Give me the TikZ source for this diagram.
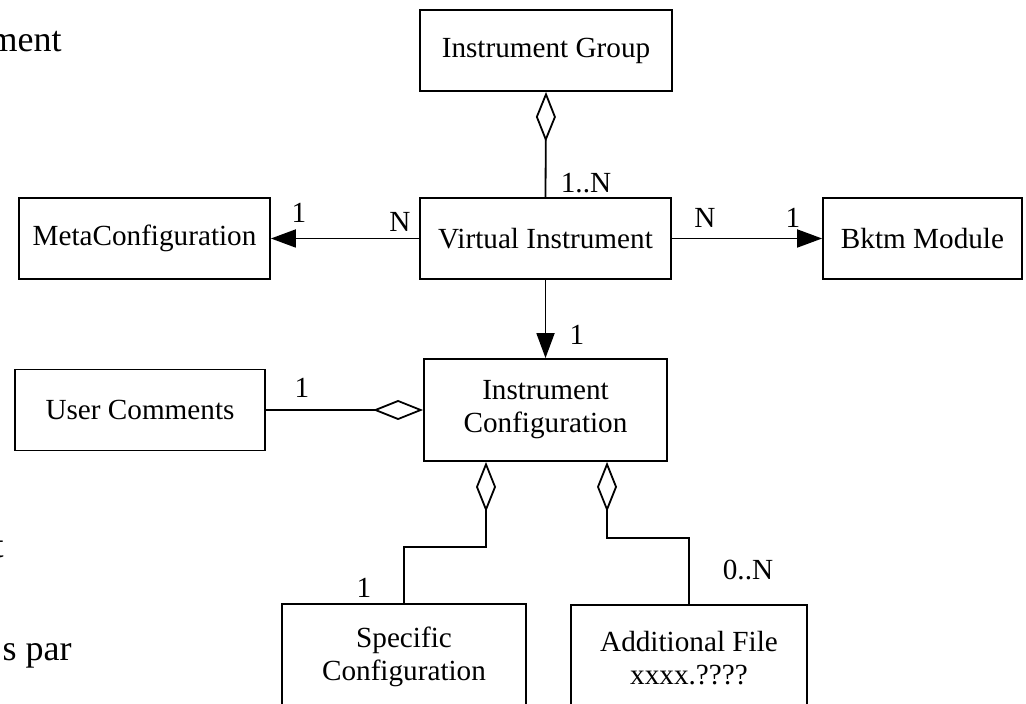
\documentclass[tikz,border=0pt]{standalone}
\usepackage{fontspec}
\setmainfont{Liberation Serif}
\usepackage{tikz}
\usetikzlibrary{arrows.meta}

\tikzset{
  classbox/.style={draw,line width=0.9pt,inner sep=0pt,align=center,
    font=\fontsize{14.6}{16.5}\selectfont},
  mult/.style={font=\fontsize{14.6}{16.5}\selectfont,inner sep=0pt},
  pagetext/.style={font=\fontsize{18}{20}\selectfont,inner sep=0pt,anchor=base east},
  aggr/.style={{Diamond[open,length=25pt,width=10pt]}-,line width=0.9pt},
  navig/.style={-{Triangle[length=12.5pt,width=9pt]},line width=0.9pt}
}

\begin{document}
\begin{tikzpicture}[x=0.5pt,y=-0.5pt]
\useasboundingbox (0,0) rectangle (1026,704);
% text of the page behind
\node[pagetext] (pgA) at (62,52) {ment};
\node[pagetext] (pgB) at (4,557) {t};
\node[pagetext] (pgC) at (72,660) {s par};
% classes
\node[classbox,minimum width=126pt,minimum height=40.5pt] (grp) at (546,50.5) {Instrument Group};
\node[classbox,minimum width=125.5pt,minimum height=40.5pt] (vi) at (545.5,238.5) {Virtual Instrument};
\node[classbox,minimum width=125.5pt,minimum height=40.5pt] (meta) at (144.5,238.5) {MetaConfiguration};
\node[classbox,minimum width=99.5pt,minimum height=40.5pt] (bktm) at (922.5,238.5) {Bktm Module};
\node[classbox,minimum width=125pt,minimum height=40.5pt] (usr) at (140,410) {User Comments};
\node[classbox,minimum width=121.5pt,minimum height=51pt] (icfg) at (545.5,410) {Instrument\\Configuration};
\node[classbox,minimum width=122pt,minimum height=53pt] (spec) at (404,657) {Specific\\Configuration};
\node[classbox,minimum width=118pt,minimum height=53pt] (addf) at (689,658) {Additional File\\xxxx.????};
% associations
\draw[aggr] (grp.south) -- (vi.north);
\draw[navig] (vi.west) -- (meta.east);
\draw[navig] (vi.east) -- (bktm.west);
\draw[navig] (vi.south) -- (icfg.north);
\draw[aggr] (icfg.west) -- (icfg.west -| usr.east);
\draw[aggr] ([xshift=-29.75pt]icfg.south) -- ++(0,-42.5pt) -| (spec.north);
\draw[aggr] ([xshift=30.75pt]icfg.south) -- ++(0,-38pt) -| (addf.north);
% multiplicities
\node[mult] (mGrp) at (586,183) {1..N};
\node[mult] (mMeta) at (299,213) {1};
\node[mult] (mViL) at (400,222) {N};
\node[mult] (mViR) at (705,218) {N};
\node[mult] (mBktm) at (793,218) {1};
\node[mult] (mIcfg) at (577,335) {1};
\node[mult] (mUsr) at (302,388) {1};
\node[mult] (mSpec) at (364,588) {1};
\node[mult] (mAddf) at (748,570) {0..N};
\end{tikzpicture}
\end{document}
